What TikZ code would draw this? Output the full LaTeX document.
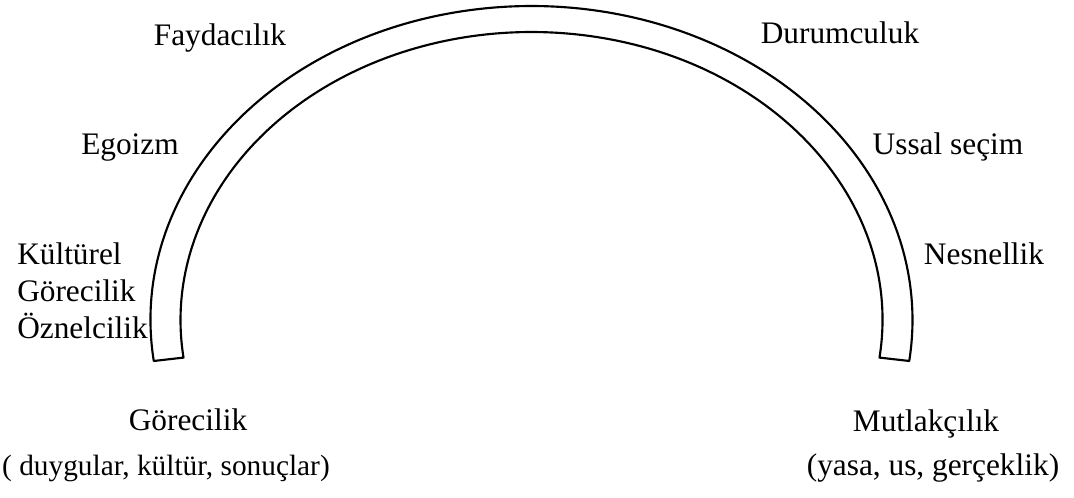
\documentclass[tikz,border=0pt]{standalone}
\usepackage{fontspec}
\setmainfont{Liberation Serif}
\usetikzlibrary{positioning}

\begin{document}
\begin{tikzpicture}[x=0.75pt,y=-0.75pt,lbl/.style={font=\fontsize{23.5}{27.4}\selectfont,inner sep=0pt},
band/.style={draw=black,line width=1.6pt,line join=round}]
\useasboundingbox (0,0) rectangle (1074,497);
% the arch
\draw[band] (531.5,320) ++(172.5:381 and 314) arc[start angle=172.5,end angle=367.5,x radius=381,y radius=314]
 -- ([shift={(531.5,320)}]7.5:351 and 288) arc[start angle=7.5,end angle=-187.5,x radius=351,y radius=288] -- cycle;
% left side
\node[lbl,anchor=base] (fayda) at (220,45) {Faydacılık};
\node[lbl,anchor=base] (ego) at (130,154) {Egoizm};
\node[lbl,anchor=base west,align=left] (kultur) at (17,338) {Kültürel\\Görecilik\\Öznelcilik};
\node[lbl,anchor=base] (gore) at (188,430) {Görecilik};
\node[lbl,anchor=base,font=\fontsize{22}{26}\selectfont] (gorealt) at (166,475) {( duygular, kültür, sonuçlar)};
% right side
\node[lbl,anchor=base] (durum) at (840,43) {Durumculuk};
\node[lbl,anchor=base] (ussal) at (948,154) {Ussal seçim};
\node[lbl,anchor=base] (nesnel) at (984,264) {Nesnellik};
\node[lbl,anchor=base] (mutlak) at (926,431) {Mutlakçılık};
\node[lbl,anchor=base] (mutlakalt) at (933,475) {(yasa, us, gerçeklik)};
\end{tikzpicture}
\end{document}
